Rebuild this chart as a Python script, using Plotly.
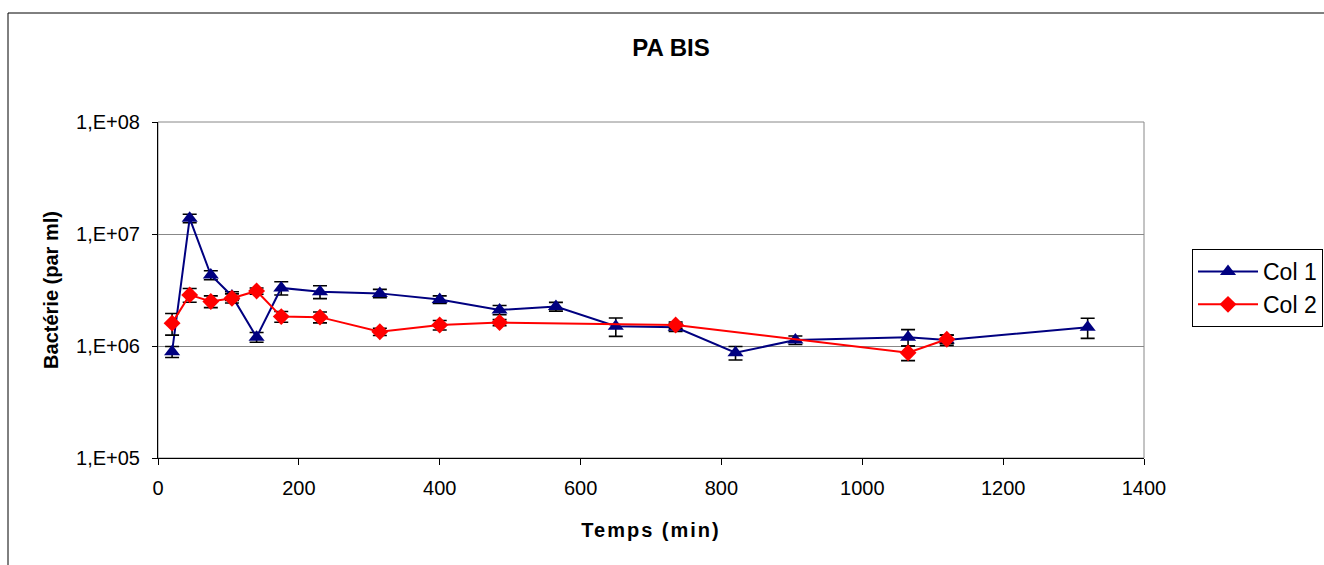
import plotly.graph_objects as go

# Data
x_col1 = [20, 45, 75, 105, 140, 175, 230, 315, 400, 485, 565, 650, 735, 820, 905, 1065, 1120, 1320]
y_col1 = [8.9e5, 1.38e7, 4.3e6, 2.8e6, 1.2e6, 3.3e6, 3.05e6, 2.95e6, 2.6e6, 2.1e6, 2.25e6, 1.5e6,
          1.47e6, 8.7e5, 1.13e6, 1.2e6, 1.13e6, 1.47e6]
err_col1 = [1.0e5, 1.2e6, 4e5, 2.5e5, 1.2e5, 4.5e5, 4e5, 2.5e5, 2e5, 2e5, 2e5, 2.8e5,
            1.2e5, 1.2e5, 1e5, 2e5, 1.2e5, 3e5]

x_col2 = [20, 45, 75, 105, 140, 175, 230, 315, 400, 485, 735, 1065, 1120]
y_col2 = [1.6e6, 2.86e6, 2.5e6, 2.67e6, 3.1e6, 1.83e6, 1.81e6, 1.34e6, 1.54e6, 1.62e6, 1.54e6, 8.7e5, 1.15e6]
err_col2 = [3.5e5, 4e5, 3e5, 2.5e5, 2e5, 2e5, 2e5, 1e5, 1.5e5, 1e5, 1e5, 1.3e5, 1e5]

y_tickvals = [1e5, 1e6, 1e7, 1e8]
y_ticktext = ["1,E+05", "1,E+06", "1,E+07", "1,E+08"]
x_tickvals = [0, 200, 400, 600, 800, 1000, 1200, 1400]

FONT = "Liberation Sans, Arial, sans-serif"

L, R, T, B = 158, 180, 122, 107
PW = 1324 - L - R
PH = 565 - T - B

fig = go.Figure()
fig.add_trace(go.Scatter(
    x=x_col1, y=y_col1, name="Col 1", mode="lines+markers",
    line=dict(color="#000080", width=2),
    marker=dict(symbol="triangle-up", size=14, color="#000080"),
    error_y=dict(type="data", array=err_col1, color="black", thickness=1.6, width=7),
))
fig.add_trace(go.Scatter(
    x=x_col2, y=y_col2, name="Col 2", mode="lines+markers",
    line=dict(color="#FF0000", width=2),
    marker=dict(symbol="diamond", size=13, color="#FF0000"),
    error_y=dict(type="data", array=err_col2, color="black", thickness=1.6, width=7),
))

fig.update_layout(
    width=1324, height=565,
    margin=dict(l=L, r=R, t=T, b=B, autoexpand=False),
    paper_bgcolor="white", plot_bgcolor="white",
    font=dict(family=FONT, size=20, color="black"),
    title=dict(text="<b>PA BIS</b>", x=671 / 1324, xanchor="center",
               y=1 - 48 / 565, yanchor="middle", font=dict(size=24)),
    showlegend=True,
    legend=dict(x=(1192 - L) / PW, y=(565 - B - 249) / PH, xanchor="left", yanchor="top",
                bordercolor="black", borderwidth=1, bgcolor="white",
                font=dict(size=23), itemwidth=60),
    xaxis=dict(range=[0, 1400], tickvals=x_tickvals, ticks="outside", ticklen=6,
               tickcolor="black", showline=True, linecolor="black", linewidth=1,
               showgrid=False, zeroline=False, mirror=False,
               tickfont=dict(size=20), ticklabelstandoff=6,
               title=dict(text="<b>Temps (min)</b>", font=dict(size=20), standoff=24)),
    yaxis=dict(type="log", range=[5, 8], tickvals=y_tickvals, ticktext=y_ticktext,
               ticks="outside", ticklen=5, tickcolor="black",
               showline=True, linecolor="black", linewidth=1,
               showgrid=True, gridcolor="#888888", gridwidth=1, zeroline=False,
               tickfont=dict(size=20), ticklabelstandoff=8,
               title=dict(text="<b>Bactérie (par ml)</b>", font=dict(size=20), standoff=12)),
)

# plot area frame (gray top/right)
fig.add_shape(type="rect", xref="paper", yref="paper", x0=0, y0=0, x1=1, y1=1,
              line=dict(color="#888888", width=1), layer="below")
# outer chart frame
fig.add_shape(type="rect", xref="paper", yref="paper",
              x0=(8 - L) / PW, y0=(565 - B - 13) / PH,
              x1=(1340 - L) / PW, y1=(565 - B - 580) / PH,
              line=dict(color="black", width=1))

post = """
document.body.style.margin='0';
var t = document.querySelector('.xtitle');
if (t) { t.style.letterSpacing = '2px'; }
"""
fig.write_html("out.html", post_script=post, config={"displayModeBar": False})
